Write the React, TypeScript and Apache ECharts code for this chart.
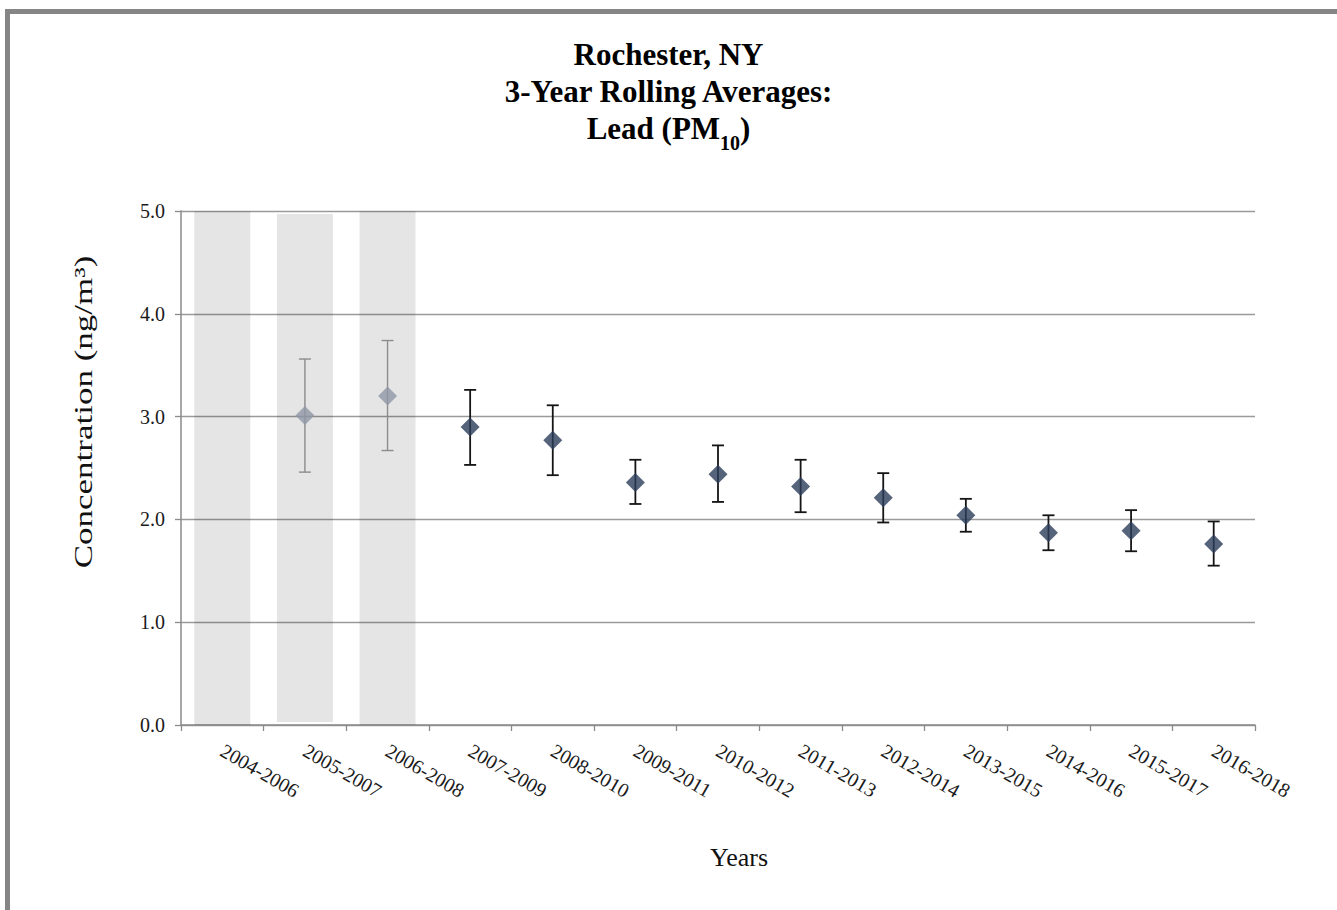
import React, { useEffect, useRef } from "react";
import * as echarts from "echarts";

// 3-year periods on the x axis
const categories = [
  "2004-2006",
  "2005-2007",
  "2006-2008",
  "2007-2009",
  "2008-2010",
  "2009-2011",
  "2010-2012",
  "2011-2013",
  "2012-2014",
  "2013-2015",
  "2014-2016",
  "2015-2017",
  "2016-2018",
];

// rolling averages (ng/m3) and their error bar ends
const means = [null, 3.01, 3.2, 2.9, 2.77, 2.36, 2.44, 2.32, 2.21, 2.04, 1.87, 1.89, 1.76];
const upper = [null, 3.56, 3.74, 3.26, 3.11, 2.58, 2.72, 2.58, 2.45, 2.2, 2.04, 2.09, 1.98];
const lower = [null, 2.46, 2.67, 2.53, 2.43, 2.15, 2.17, 2.07, 1.97, 1.88, 1.7, 1.69, 1.55];

// periods with incomplete data, drawn as shaded columns
const incomplete = [true, true, true, false, false, false, false, false, false, false, false, false, false];
const shadeBase = [0, 0.03, 0, null, null, null, null, null, null, null, null, null, null];
const shadeHeight = [5, 4.94, 5, null, null, null, null, null, null, null, null, null, null];

// y axis ticks
const yMin = 0;
const yMax = 5;
const yStep = 1;

const SERIF = "Liberation Serif";

const App: React.FC = () => {
  const chartRef = useRef<HTMLDivElement>(null);

  useEffect(() => {
    if (!chartRef.current) return;
    const chart = echarts.init(chartRef.current, undefined, { renderer: "svg" });

    const errorData = categories
      .map((_, i) => (means[i] == null ? null : [i, lower[i], upper[i]]))
      .filter((d) => d !== null);

    const option: echarts.EChartsOption = {
      animation: false,
      backgroundColor: "#ffffff",
      title: {
        text: "{b|Rochester, NY}\n{b|3-Year Rolling Averages:}\n{b|Lead (PM}{s|10}{b|)}",
        left: "center",
        top: 31,
        textStyle: {
          rich: {
            b: {
              fontFamily: SERIF,
              fontSize: 31,
              fontWeight: "bold",
              color: "#000",
              lineHeight: 37,
            },
            s: {
              fontFamily: SERIF,
              fontSize: 20,
              fontWeight: "bold",
              color: "#000",
              verticalAlign: "bottom",
              lineHeight: 22,
              padding: [0, 0, -6, 0],
            },
          },
        },
      },
      grid: {
        left: 181,
        right: 82,
        top: 211,
        bottom: 185,
      },
      xAxis: {
        type: "category",
        data: categories,
        boundaryGap: true,
        axisLine: { lineStyle: { color: "#8a8a8a", width: 1.5 } },
        axisTick: { show: true, length: 6, lineStyle: { color: "#8a8a8a", width: 1.3 } },
        axisLabel: {
          rotate: -30,
          margin: 24,
          fontFamily: SERIF,
          fontSize: 20,
          color: "#1a1a1a",
          interval: 0,
        },
        splitLine: { show: false },
      },
      yAxis: {
        type: "value",
        min: yMin,
        max: yMax,
        interval: yStep,
        axisLine: { show: true, lineStyle: { color: "#8a8a8a", width: 1.5 } },
        axisTick: { show: true, length: 6, lineStyle: { color: "#8a8a8a", width: 1.3 } },
        axisLabel: {
          margin: 16,
          fontFamily: SERIF,
          fontSize: 20,
          color: "#1a1a1a",
          formatter: (v: number) => v.toFixed(1),
        },
        splitLine: { show: true, lineStyle: { color: "#9a9a9a", width: 1.3 } },
      },
      graphic: [
        {
          type: "rect",
          silent: true,
          shape: { x: 5, y: 9, width: 1340, height: 5 },
          style: { fill: "#858585" },
        },
        {
          type: "rect",
          silent: true,
          shape: { x: 5, y: 9, width: 5, height: 910 },
          style: { fill: "#858585" },
        },
        {
          type: "text",
          silent: true,
          x: 84,
          y: 412,
          rotation: Math.PI / 2,
          scaleX: 1.4,
          style: {
            text: "Concentration (ng/m³)",
            fontFamily: SERIF,
            fontSize: 25,
            fill: "#111",
            align: "center",
            verticalAlign: "middle",
          },
        },
        {
          type: "text",
          silent: true,
          x: 739,
          y: 857,
          style: {
            text: "Years",
            fontFamily: SERIF,
            fontSize: 26,
            fill: "#111",
            align: "center",
            verticalAlign: "middle",
          },
        },
      ],
      series: [
        {
          type: "bar",
          stack: "shade",
          data: shadeBase,
          barWidth: 56,
          silent: true,
          itemStyle: { color: "rgba(0,0,0,0)" },
        },
        {
          type: "bar",
          stack: "shade",
          data: shadeHeight,
          barWidth: 56,
          silent: true,
          itemStyle: { color: "rgba(0,0,0,0.1)" },
        },
        {
          type: "custom",
          silent: true,
          z: 3,
          encode: { x: 0, y: [1, 2] },
          data: errorData,
          renderItem: (_params: any, api: any) => {
            const i = api.value(0);
            const top = api.coord([i, api.value(2)]);
            const bot = api.coord([i, api.value(1)]);
            const grey = incomplete[i];
            const style = { stroke: grey ? "#8c8c8c" : "#151515", lineWidth: grey ? 1.4 : 1.8 };
            const w = 6;
            return {
              type: "group",
              children: [
                { type: "line", shape: { x1: top[0], y1: top[1], x2: bot[0], y2: bot[1] }, style },
                { type: "line", shape: { x1: top[0] - w, y1: top[1], x2: top[0] + w, y2: top[1] }, style },
                { type: "line", shape: { x1: bot[0] - w, y1: bot[1], x2: bot[0] + w, y2: bot[1] }, style },
              ],
            };
          },
        },
        {
          type: "scatter",
          silent: true,
          z: 4,
          symbol: "diamond",
          symbolSize: 19,
          data: means,
          itemStyle: {
            color: (p: any) => (incomplete[p.dataIndex] ? "#8e97a5" : "#2b3c5a"),
          },
        },
      ],
    };

    chart.setOption(option);

    const handleResize = () => chart.resize();
    window.addEventListener("resize", handleResize);
    return () => {
      window.removeEventListener("resize", handleResize);
      chart.dispose();
    };
  }, []);

  return (
    <div
      ref={chartRef}
      style={{ position: "absolute", left: 0, top: 0, width: 1337, height: 910 }}
    />
  );
};

export default App;
